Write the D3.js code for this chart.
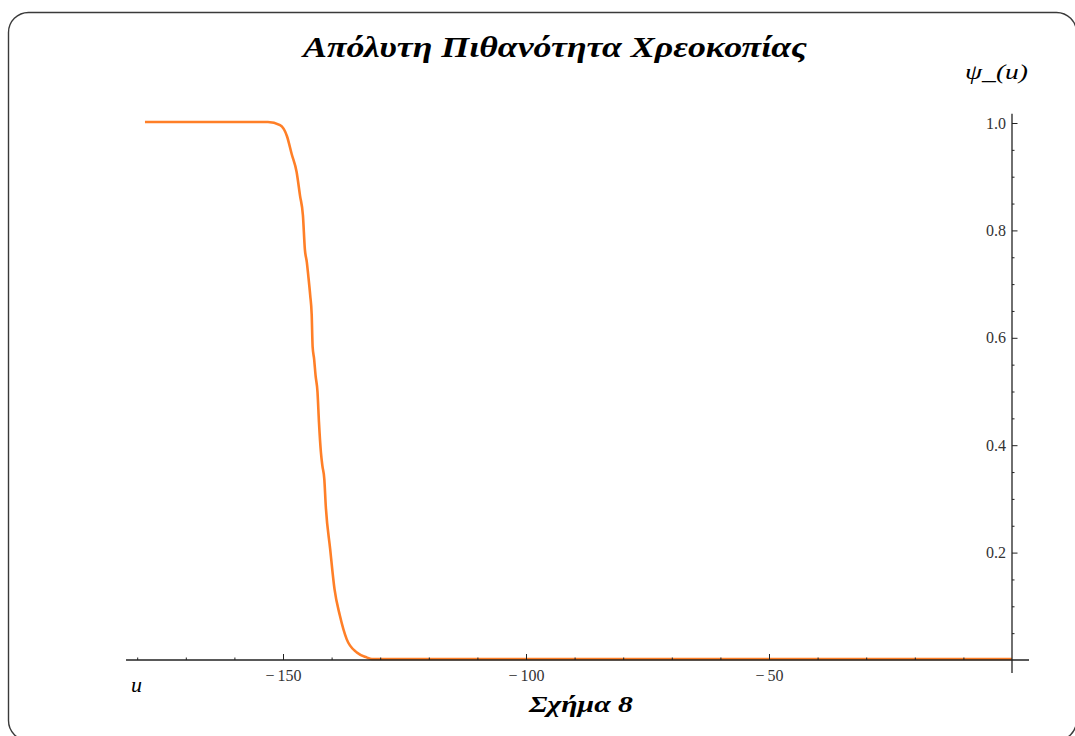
<!DOCTYPE html>
<html>
<head>
<meta charset="utf-8">
<script src="https://cdn.jsdelivr.net/npm/d3@7"></script>
<style>
  html, body { margin: 0; padding: 0; background: #fff; }
  svg text { font-family: "Liberation Serif", "DejaVu Serif", serif; }
</style>
</head>
<body>
<div id="chart"></div>
<script>
// values
const uValues = [-178.4, -153.1, -150.6, -149.2, -148.2, -147.2, -146.5, -145.9, -145.5, -145.1,
  -144.8, -144.4, -144.1, -143.9, -143.6, -143.3, -142.9, -142.6, -142.2, -141.9, -141.5,
  -141.2, -140.3, -139.4, -138.3, -136.9, -134.8, -132.8, -131.7, 0];
const psiValues = [1.0, 1.0, 0.994, 0.974, 0.940, 0.907, 0.863, 0.826, 0.763, 0.739,
  0.714, 0.677, 0.642, 0.581, 0.559, 0.528, 0.497, 0.441, 0.385, 0.360, 0.335,
  0.285, 0.205, 0.130, 0.081, 0.037, 0.012, 0.003, 0, 0];
const xTicks = [-150, -100, -50];
const xMinorTicks = [-180, -170, -160, -140, -130, -120, -110, -90, -80, -70, -60, -40, -30, -20, -10];
const yTicks = [0.2, 0.4, 0.6, 0.8, 1.0];
const yMinorTicks = [0.05, 0.1, 0.15, 0.25, 0.3, 0.35, 0.45, 0.5, 0.55, 0.65, 0.7, 0.75, 0.85, 0.9, 0.95];

const title = "Απόλυτη Πιθανότητα Χρεοκοπίας";
const caption = "Σχήμα  8";

const width = 1075, height = 736;

const svg = d3.select("#chart").append("svg")
  .attr("width", width)
  .attr("height", height);

// rounded frame
svg.append("rect")
  .attr("x", 8.5).attr("y", 12.5)
  .attr("width", 1068).attr("height", 728)
  .attr("rx", 20).attr("ry", 20)
  .attr("fill", "none")
  .attr("stroke", "#3a3a3a")
  .attr("stroke-width", 1.4);

const x = d3.scaleLinear().domain([-180, 0]).range([137.2, 1012]);
const y = d3.scaleLinear().domain([0, 1]).range([660, 123]);

const tickColor = "#222";

// curve
const points = uValues.map((u, i) => [u, psiValues[i]]);
svg.append("path")
  .datum(points)
  .attr("fill", "none")
  .attr("stroke", "#ff7f27")
  .attr("stroke-width", 2.6)
  .attr("d", d3.line().x(d => x(d[0])).y(d => y(d[1]) - 1).curve(d3.curveMonotoneX));

// x axis
const gx = svg.append("g").attr("transform", `translate(0,${y(0)})`);
gx.append("line")
  .attr("x1", x(-182.3)).attr("x2", x(3.5))
  .attr("stroke", tickColor).attr("stroke-width", 1.3);
gx.append("g")
  .call(d3.axisBottom(x).tickValues(xMinorTicks).tickSize(-2.5).tickFormat(""))
  .call(g => g.select(".domain").remove());
gx.append("g")
  .call(d3.axisBottom(x).tickValues(xTicks).tickSize(-6).tickPadding(10)
    .tickFormat(d => "\u2212\u2009" + Math.abs(d)))
  .call(g => g.select(".domain").remove())
  .call(g => g.selectAll("text")
    .attr("font-family", "Liberation Serif")
    .attr("font-size", 16).attr("fill", "#333"));
gx.selectAll("line").attr("stroke", tickColor);

// y axis
const gy = svg.append("g").attr("transform", `translate(${x(0)},0)`);
gy.append("line")
  .attr("y1", y(-0.024)).attr("y2", y(1.017))
  .attr("stroke", tickColor).attr("stroke-width", 1.3);
gy.append("g")
  .call(d3.axisLeft(y).tickValues(yMinorTicks).tickSize(-2.5).tickFormat(""))
  .call(g => g.select(".domain").remove());
gy.append("g")
  .call(d3.axisLeft(y).tickValues(yTicks).tickSize(-5.5).tickPadding(6)
    .tickFormat(d3.format(".1f")))
  .call(g => g.select(".domain").remove())
  .call(g => g.selectAll("text")
    .attr("font-family", "Liberation Serif")
    .attr("font-size", 16).attr("fill", "#333"));
gy.selectAll("line").attr("stroke", tickColor);

// labels
svg.append("text")
  .attr("x", 555).attr("y", 57)
  .attr("text-anchor", "middle")
  .attr("font-size", 30)
  .attr("font-weight", "bold")
  .attr("font-style", "italic")
  .attr("textLength", 504)
  .attr("lengthAdjust", "spacingAndGlyphs")
  .text(title);

svg.append("text")
  .attr("x", 996.5).attr("y", 79)
  .attr("text-anchor", "middle")
  .attr("font-size", 21)
  .attr("font-style", "italic")
  .attr("textLength", 63)
  .attr("lengthAdjust", "spacingAndGlyphs")
  .text("ψ_(u)");

svg.append("text")
  .attr("x", 131).attr("y", 692)
  .attr("font-size", 22)
  .attr("font-style", "italic")
  .text("u");

svg.append("text")
  .attr("x", 581).attr("y", 712)
  .attr("text-anchor", "middle")
  .attr("font-size", 23)
  .attr("font-weight", "bold")
  .attr("font-style", "italic")
  .attr("textLength", 104)
  .attr("lengthAdjust", "spacingAndGlyphs")
  .text(caption);
</script>
</body>
</html>
